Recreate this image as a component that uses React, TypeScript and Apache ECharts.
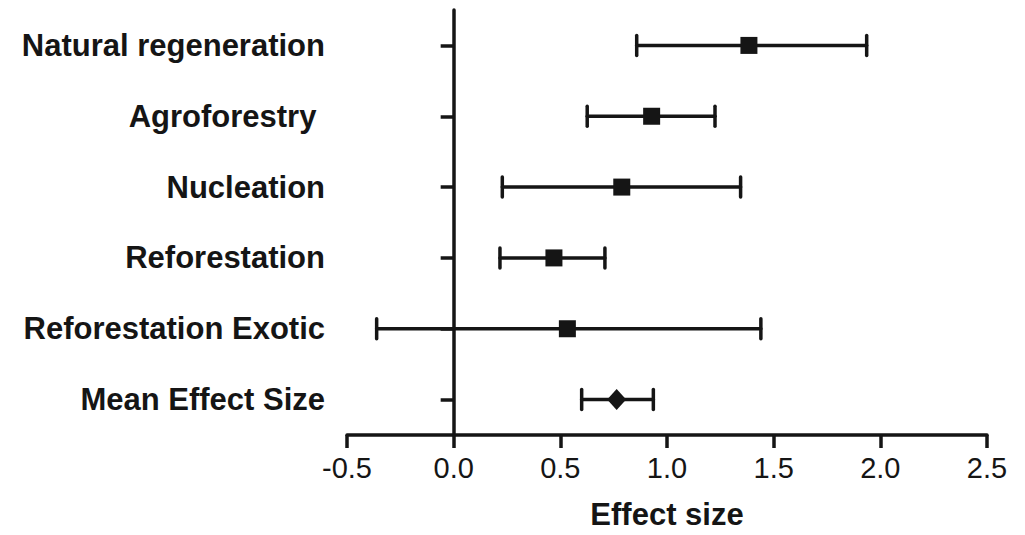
import React, { useEffect, useRef } from "react";
import * as echarts from "echarts";

const categories = [
  "Natural regeneration",
  "Agroforestry ",
  "Nucleation",
  "Reforestation",
  "Reforestation Exotic",
  "Mean Effect Size",
];
const means = [1.384, 0.928, 0.788, 0.47, 0.533, 0.764];
const lows = [0.858, 0.626, 0.228, 0.217, -0.361, 0.6];
const highs = [1.936, 1.225, 1.345, 0.709, 1.44, 0.936];
const markerKinds = ["rect", "rect", "rect", "rect", "rect", "diamond"];
const xTicks = { min: -0.5, max: 2.5, interval: 0.5 };

const INK = "#151515";

export default function App() {
  const ref = useRef<HTMLDivElement>(null);
  useEffect(() => {
    if (!ref.current) return;
    const chart = echarts.init(ref.current, undefined, { renderer: "svg" });
    const barData = categories.map((c, i) => [lows[i], highs[i], c]);
    const pointData = categories.map((c, i) => ({
      value: [means[i], c],
      symbol: markerKinds[i],
      symbolSize: markerKinds[i] === "diamond" ? [19, 21] : [17, 17],
    }));
    chart.setOption({
      animation: false,
      backgroundColor: "#ffffff",
      grid: {
        left: 347,
        right: 38,
        top: 10,
        bottom: 100,
        containLabel: false,
        outerBoundsMode: "none",
      },
      xAxis: {
        type: "value",
        min: xTicks.min,
        max: xTicks.max,
        interval: xTicks.interval,
        name: "Effect size",
        nameLocation: "middle",
        nameGap: 64,
        nameTextStyle: {
          fontFamily: "Liberation Sans, Arial, sans-serif",
          fontWeight: "bold",
          fontSize: 31,
          color: INK,
        },
        axisLine: { show: true, onZero: false, lineStyle: { color: INK, width: 3.5 } },
        axisTick: { show: true, length: 13, lineStyle: { color: INK, width: 3.5 } },
        axisLabel: {
          margin: 18,
          fontFamily: "Liberation Sans, Arial, sans-serif",
          fontSize: 29,
          color: INK,
          formatter: (v: number) => v.toFixed(1),
        },
        splitLine: { show: false },
      },
      yAxis: {
        type: "category",
        data: categories,
        inverse: true,
        boundaryGap: true,
        axisLine: { show: true, onZero: true, lineStyle: { color: INK, width: 3.5 } },
        axisTick: { show: true, alignWithLabel: true, length: 13, lineStyle: { color: INK, width: 3.5 } },
        axisLabel: {
          margin: 22,
          fontFamily: "Liberation Sans, Arial, sans-serif",
          fontWeight: "bold",
          fontSize: 31,
          color: INK,
        },
        splitLine: { show: false },
      },
      series: [
        {
          type: "custom",
          data: barData,
          encode: { x: [0, 1], y: 2 },
          z: 2,
          renderItem: (params: any, api: any) => {
            const y = api.value(2);
            const a = api.coord([api.value(0), y]);
            const b = api.coord([api.value(1), y]);
            const h = 10;
            const style = { stroke: INK, lineWidth: 3.5, lineCap: "round" };
            return {
              type: "group",
              children: [
                { type: "line", shape: { x1: a[0], y1: a[1], x2: b[0], y2: b[1] }, style },
                { type: "line", shape: { x1: a[0], y1: a[1] - h, x2: a[0], y2: a[1] + h }, style },
                { type: "line", shape: { x1: b[0], y1: b[1] - h, x2: b[0], y2: b[1] + h }, style },
              ],
            };
          },
        },
        {
          type: "scatter",
          data: pointData,
          z: 5,
          itemStyle: { color: INK, opacity: 1 },
        },
      ],
    });
    return () => chart.dispose();
  }, []);
  return (
    <div
      ref={ref}
      style={{ position: "fixed", left: 0, top: 0, width: 1025, height: 535 }}
    />
  );
}
